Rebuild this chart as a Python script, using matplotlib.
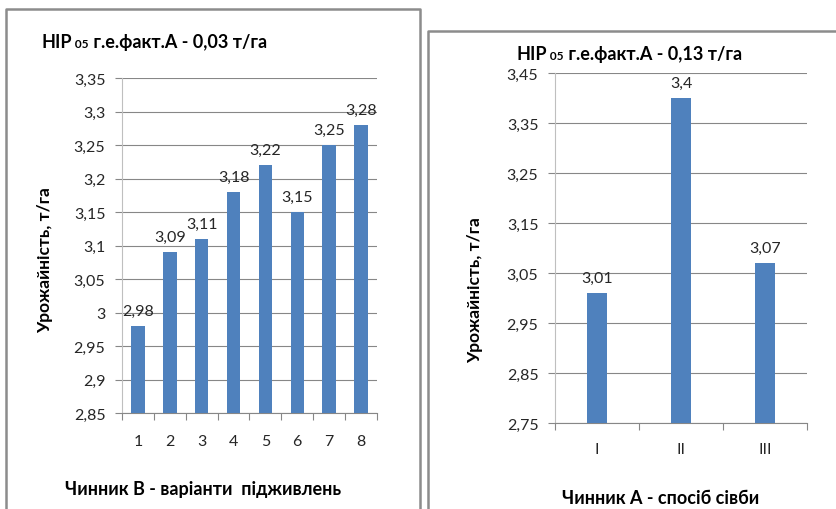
import numpy as np
import matplotlib.pyplot as plt
from matplotlib.ticker import FuncFormatter
from matplotlib.lines import Line2D

plt.rcParams['font.family'] = ['Lato', 'DejaVu Sans']

W, H = 837, 510

# --- data ---
variants = ['1', '2', '3', '4', '5', '6', '7', '8']
yield_b = [2.98, 3.09, 3.11, 3.18, 3.22, 3.15, 3.25, 3.28]
methods = ['I', 'II', 'III']
yield_a = [3.01, 3.40, 3.07]

BAR = '#4F81BD'
GRID = '#878787'
TXT = '#262626'


def comma(v, pos=None):
    s = f"{v:.2f}".rstrip('0').rstrip('.')
    return s.replace('.', ',')


fig = plt.figure(figsize=(W / 100, H / 100), dpi=100)


def px_axes(l, t, r, b):
    return fig.add_axes([l / W, 1 - b / H, (r - l) / W, (b - t) / H])


def bar_panel(ax, labels, values, y0, y1, step, width, xpad):
    x = np.arange(len(values))
    bars = ax.bar(x, values, width=width, color=BAR, zorder=3)
    ax.set_xlim(-0.5, len(values) - 0.5)
    ax.set_ylim(y0, y1)
    ax.set_yticks(np.round(np.arange(y0, y1 + step / 2, step), 2))
    ax.yaxis.set_major_formatter(FuncFormatter(comma))
    ax.grid(axis='y', color=GRID, lw=0.8, zorder=0)
    ax.set_axisbelow(True)
    ax.set_xticks(x, labels)
    ax.set_xticks(np.arange(len(values) + 1) - 0.5, minor=True)
    ax.tick_params(axis='x', which='major', length=0, pad=xpad,
                   labelsize=11.5, labelcolor=TXT)
    ax.tick_params(axis='x', which='minor', length=5, width=0.8, color=GRID)
    ax.tick_params(axis='y', length=5, width=0.8, color=GRID, pad=7,
                   labelsize=11.5, labelcolor=TXT)
    for side in ('top', 'right'):
        ax.spines[side].set_visible(False)
    ax.spines['left'].set_color('#BFBFBF')
    ax.spines['bottom'].set_color(GRID)
    for s in ax.spines.values():
        s.set_linewidth(0.8)
    for b, v in zip(bars, values):
        ax.annotate(comma(v), (b.get_x() + b.get_width() / 2, v),
                    xytext=(0, 6), textcoords='offset points',
                    ha='center', va='bottom', fontsize=11.5, color=TXT)


def chain(parts, x, y):
    # bold title made of pieces with different sizes, placed one after another
    r = fig.canvas.get_renderer()
    for s, size in parts:
        t = fig.text(x / W, 1 - y / H, s, fontsize=size, fontweight='bold',
                     ha='left', va='baseline', color='black')
        x += t.get_window_extent(r).width


def frame(l, t, r, b):
    kw = dict(color='#8C8C8C', lw=1.8, transform=fig.transFigure)
    xs = [l / W, l / W, r / W, r / W]
    ys = [1 - b / H, 1 - t / H, 1 - t / H, 1 - b / H]
    fig.add_artist(Line2D(xs, ys, **kw))


frame(6, 10, 420, 520)
frame(428, 32, 845, 520)

# left panel: feeding variants
ax1 = px_axes(122, 79, 377, 414)
bar_panel(ax1, variants, yield_b, 2.85, 3.35, 0.05, 0.42, 15)

# right panel: sowing method
ax2 = px_axes(555, 74, 807, 424)
bar_panel(ax2, methods, yield_a, 2.75, 3.45, 0.1, 0.24, 14)

chain([('НІР', 13), (' 05', 8.5), (' г.е.факт.А - 0,03 т/га', 13)], 42, 48)
chain([('НІР', 13), (' 05', 8.5), (' г.е.факт.А - 0,13 т/га', 13)], 517, 60)

fig.text(45 / W, 1 - 260 / H, 'Урожайність, т/га', rotation=90,
         fontsize=12.5, fontweight='bold', ha='center', va='center')
fig.text(475 / W, 1 - 290 / H, 'Урожайність, т/га', rotation=90,
         fontsize=12.5, fontweight='bold', ha='center', va='center')
fig.text(203 / W, 1 - 490 / H, 'Чинник В - варіанти  підживлень',
         fontsize=13, fontweight='bold', ha='center', va='center')
fig.text(661 / W, 1 - 499 / H, 'Чинник А - спосіб сівби',
         fontsize=13, fontweight='bold', ha='center', va='center')

fig.savefig('out.png', dpi=100)
